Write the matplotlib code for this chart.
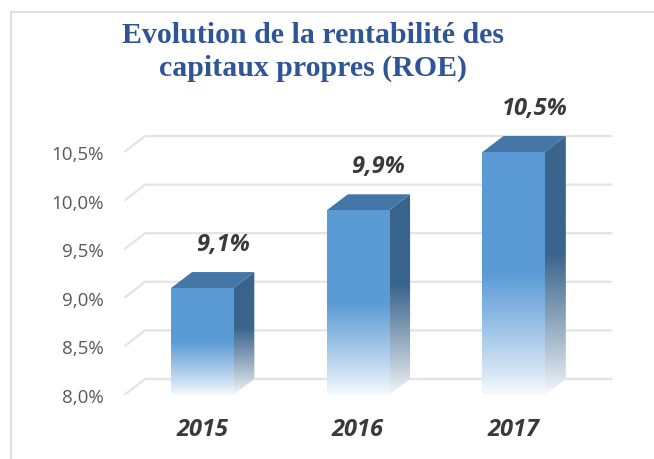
import numpy as np
import matplotlib
matplotlib.use("Agg")
import matplotlib.pyplot as plt
from matplotlib.patches import Polygon
from matplotlib.lines import Line2D

# data
years = ["2015", "2016", "2017"]
roe = [9.1, 9.9, 10.5]
roe_labels = ["9,1%", "9,9%", "10,5%"]
yticks = [8.0, 8.5, 9.0, 9.5, 10.0, 10.5]
ytick_labels = ["8,0%", "8,5%", "9,0%", "9,5%", "10,0%", "10,5%"]
title_lines = ["Evolution de la rentabilité des", "capitaux propres (ROE)"]

# 3d look
dx = 0.135   # depth offset in x units
dy = 0.165   # depth offset in y units
w = 0.4      # bar width
base = 8.0
front = np.array([0x5B, 0x9B, 0xD5]) / 255
side = np.array([0x3A, 0x64, 0x8B]) / 255
top = "#4576A8"
grid_c = "#E4E4E4"

fig = plt.figure(figsize=(6.54, 4.60), dpi=100)
ax = fig.add_axes([124.25 / 654, 64 / 460, 488.3 / 654, 262.4 / 460])
for s in ax.spines.values():
    s.set_visible(False)


def grad(c, n=200, frac=0.5):
    t = np.linspace(0, 1, n)
    k = np.clip(t / frac, 0, 1) ** 0.9
    k = 0.04 + 0.96 * k
    col = (1 - k)[:, None] * np.ones(3) + k[:, None] * c
    return col[:, None, :]


# gridlines on back wall
for v in yticks:
    ax.plot([-0.5, -0.5 + dx, 2.5 + dx], [v, v + dy, v + dy], color=grid_c, lw=1.6,
            zorder=1, solid_capstyle="butt")

for i, v in enumerate(roe):
    x0, x1 = i - w / 2, i + w / 2
    # side face
    sp = Polygon([(x1, base), (x1 + dx, base + dy), (x1 + dx, v + dy), (x1, v)],
                 closed=True, fc="none", ec="none")
    ax.add_patch(sp)
    im = ax.imshow(grad(side, frac=0.55), extent=[x1, x1 + dx, base, v + dy],
                   origin="lower", aspect="auto", zorder=3, interpolation="bilinear")
    im.set_clip_path(sp)
    # top face
    ax.add_patch(Polygon([(x0, v), (x0 + dx, v + dy), (x1 + dx, v + dy), (x1, v)],
                         closed=True, fc=top, ec="none", zorder=4))
    # front face
    ax.imshow(grad(front, frac=0.5), extent=[x0, x1, base, v], origin="lower",
              aspect="auto", zorder=5, interpolation="bilinear")
    ax.text(i + dx, v + dy + 0.29, roe_labels[i], ha="center", va="center",
            fontsize=17, fontweight="bold", fontstyle="italic", color="#3A3A3A",
            family="Open Sans", clip_on=False)

ax.set_xlim(-0.5, 2.5 + dx)
ax.set_ylim(base, 10.7)
ax.set_yticks(yticks)
ax.set_yticklabels(ytick_labels, family="Open Sans", fontsize=13.5, color="#595959")
ax.set_xticks(range(len(years)))
ax.set_xticklabels(years, family="Open Sans", fontsize=17, fontweight="bold",
                   fontstyle="italic", color="#3A3A3A")
ax.tick_params(axis="y", length=0, pad=15)
ax.tick_params(axis="x", length=0, pad=16)

fig.text(313 / 654, 1 - 43 / 460, title_lines[0], ha="center", va="baseline",
         family="Liberation Serif", fontweight="bold", fontsize=21.5, color="#2F5597")
fig.text(313 / 654, 1 - 76 / 460, title_lines[1], ha="center", va="baseline",
         family="Liberation Serif", fontweight="bold", fontsize=21.5, color="#2F5597")

# chart frame
fig.add_artist(Line2D([11 / 654, 11 / 654], [0, 1 - 12.5 / 460], color="#D9D9D9", lw=1.2))
fig.add_artist(Line2D([11 / 654, 1], [1 - 12.5 / 460, 1 - 12.5 / 460], color="#D9D9D9", lw=1.2))

fig.savefig("out.png", dpi=100)
